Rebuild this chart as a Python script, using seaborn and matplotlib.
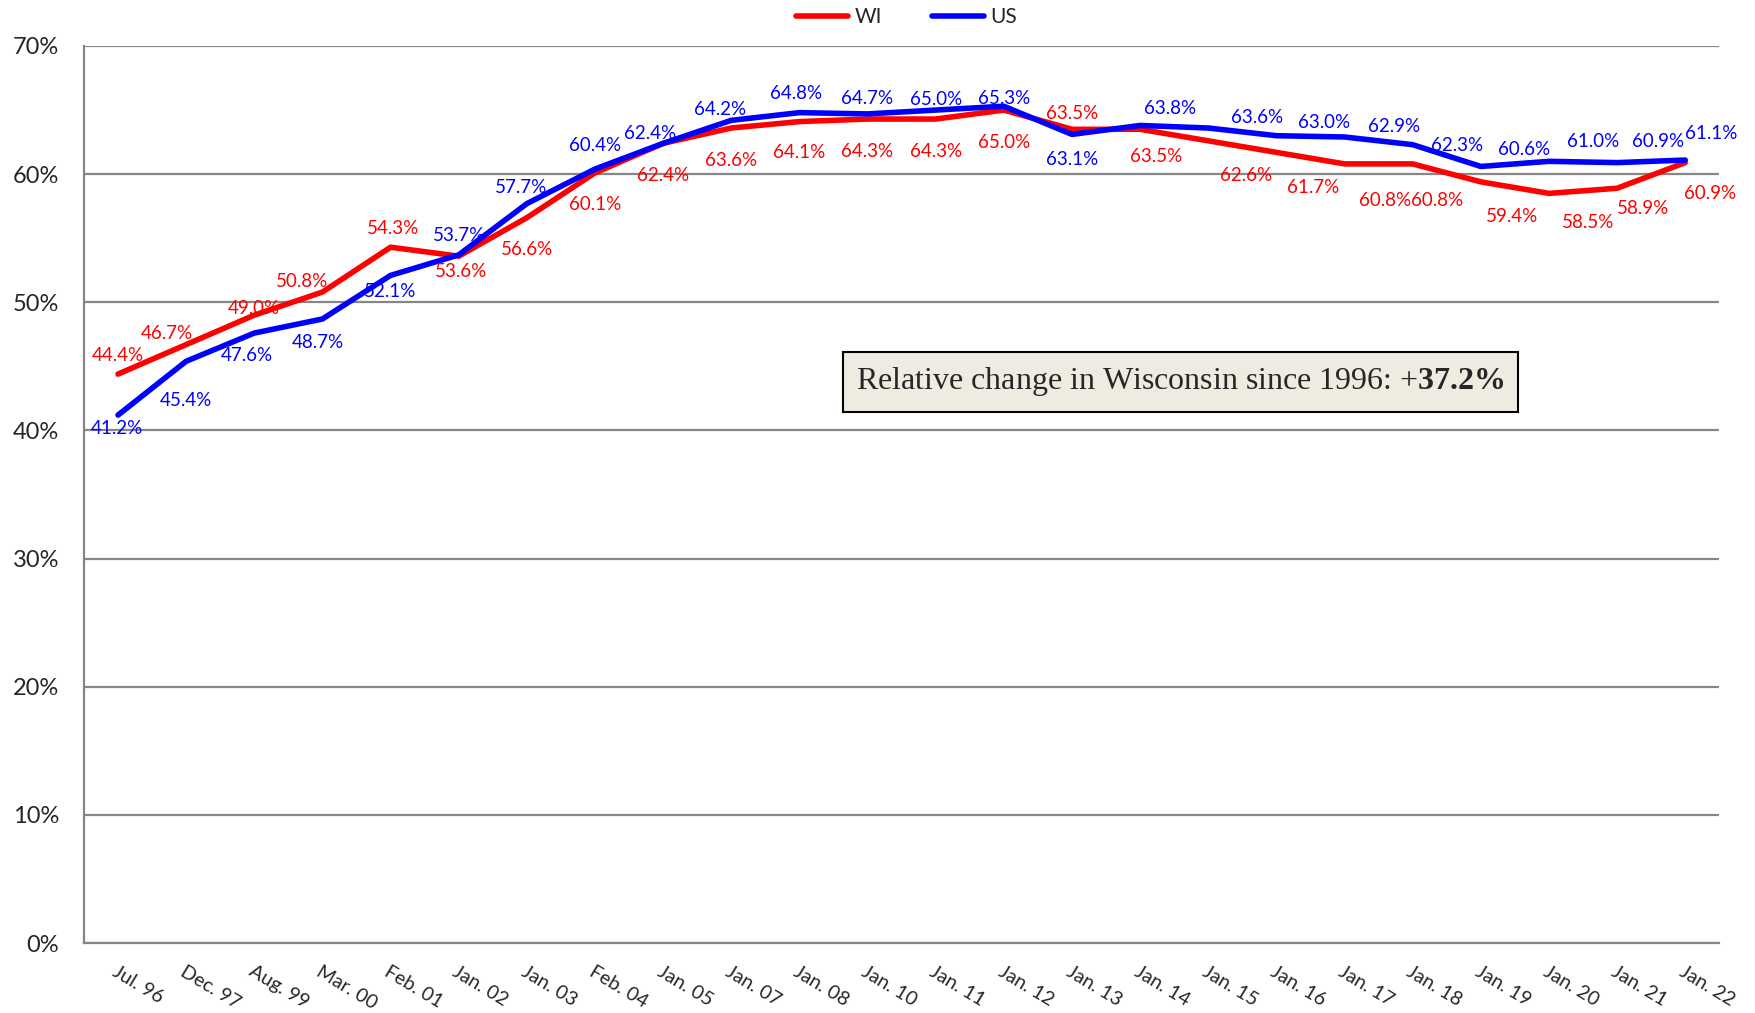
import pandas as pd
import matplotlib.pyplot as plt
import seaborn as sns

periods = ["Jul. 96", "Dec. 97", "Aug. 99", "Mar. 00", "Feb. 01", "Jan. 02", "Jan. 03",
           "Feb. 04", "Jan. 05", "Jan. 07", "Jan. 08", "Jan. 10", "Jan. 11", "Jan. 12",
           "Jan. 13", "Jan. 14", "Jan. 15", "Jan. 16", "Jan. 17", "Jan. 18", "Jan. 19",
           "Jan. 20", "Jan. 21", "Jan. 22"]
wi = [44.4, 46.7, 49.0, 50.8, 54.3, 53.6, 56.6, 60.1, 62.4, 63.6, 64.1, 64.3, 64.3, 65.0,
      63.5, 63.5, 62.6, 61.7, 60.8, 60.8, 59.4, 58.5, 58.9, 60.9]
us = [41.2, 45.4, 47.6, 48.7, 52.1, 53.7, 57.7, 60.4, 62.4, 64.2, 64.8, 64.7, 65.0, 65.3,
      63.1, 63.8, 63.6, 63.0, 62.9, 62.3, 60.6, 61.0, 60.9, 61.1]

# label offsets (pixels, x right / y down) as placed in the original
wi_off = [(0, -17), (-17, -10), (0, -6), (-18, -9), (2, -17), (2, 14), (0, 28), (0, 28),
          (0, 29), (0, 29), (0, 28), (0, 29), (0, 29), (0, 29), (0, -14), (14, 24),
          (34, 31), (33, 31), (36, 33), (22, 33), (28, 31), (35, 26), (23, 18), (22, 28)]
us_off = [(-1, 12), (0, 35), (-7, 20), (-4, 21), (0, 14), (0, -17), (-5, -14), (0, -21),
          (-12, -9), (-10, -10), (-3, -17), (0, -14), (0, -9), (0, -7), (0, 22), (27, -15),
          (44, -9), (43, -12), (44, -9), (40, 1), (39, -15), (39, -18), (37, -19), (23, -24)]

RED = "#FF0000"
BLUE = "#0000FF"
GRID = "#868686"

sns.set_style("white")
plt.rcParams["font.family"] = ["Lato", "DejaVu Sans"]
plt.rcParams["mathtext.fontset"] = "custom"
plt.rcParams["mathtext.rm"] = "Liberation Serif"
plt.rcParams["mathtext.bf"] = "Liberation Serif:bold"

df = pd.DataFrame({
    "x": list(range(len(periods))) * 2,
    "value": wi + us,
    "series": ["WI"] * len(wi) + ["US"] * len(us),
})

fig = plt.figure(figsize=(17.56, 10.13), dpi=100)
ax = fig.add_axes([0.0478, 0.069, 0.9313, 0.8856])

sns.lineplot(data=df, x="x", y="value", hue="series", palette={"WI": RED, "US": BLUE},
             linewidth=4, ax=ax, sort=False)

ax.set_xlim(-0.5, len(periods) - 0.5)
ax.set_ylim(0, 70)
ax.set_yticks(range(0, 71, 10))
ax.set_yticklabels([f"{v}%" for v in range(0, 71, 10)], fontsize=17)
ax.yaxis.grid(True, color=GRID, linewidth=1.6)
ax.set_axisbelow(True)
ax.tick_params(axis="y", length=7, color=GRID, width=1.4, pad=11)

ax.set_xticks(range(len(periods)))
ax.set_xticklabels(periods, rotation=-31, ha="left", va="top", rotation_mode="anchor",
                   fontsize=14)
ax.set_xticks([i - 0.5 for i in range(len(periods) + 1)], minor=True)
ax.tick_params(axis="x", which="major", length=0, pad=14)
ax.tick_params(axis="x", which="minor", length=7, color=GRID, width=1.4)
ax.set_xlabel("")
ax.set_ylabel("")

for side in ["top", "right"]:
    ax.spines[side].set_visible(False)
for side in ["left", "bottom"]:
    ax.spines[side].set_color(GRID)
    ax.spines[side].set_linewidth(1.6)

for vals, offs, col in [(wi, wi_off, RED), (us, us_off, BLUE)]:
    for i, (v, (dx, dy)) in enumerate(zip(vals, offs)):
        ax.annotate(f"{v:.1f}%", (i, v), xytext=(dx * 1.12, -dy * 1.12),
                    textcoords="offset pixels", ha="center", va="center",
                    color=col, fontsize=13.5)

leg = ax.legend(loc="lower center", bbox_to_anchor=(0.503, 1.0), ncol=2, frameon=False,
                fontsize=15, handlelength=2.5, columnspacing=2.4, handletextpad=0.3)

ax.text(0.6705, 0.6255, r"Relative change in Wisconsin since 1996: +$\mathbf{37.2\%}$",
        transform=ax.transAxes, ha="center", va="center", fontsize=23,
        family="Liberation Serif",
        bbox=dict(boxstyle="square,pad=0.42", facecolor="#EEECE1", edgecolor="black",
                  linewidth=1.5))

fig.savefig("out.png", dpi=100)
